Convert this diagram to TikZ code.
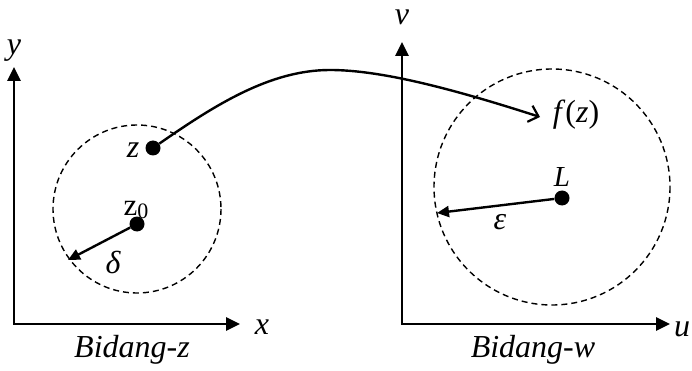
\documentclass[tikz,border=0pt]{standalone}
\usepackage{fontspec}
\setmainfont{Liberation Serif}
\usetikzlibrary{arrows.meta}
\begin{document}
\begin{tikzpicture}[x=1pt,y=-1pt,
  axis/.style={line width=2.8pt,{Triangle[length=14pt,width=13pt]}-{Triangle[length=14pt,width=13pt]}},
  disc/.style={draw,line width=1.4pt,dash pattern=on 6pt off 4pt},
  dot/.style={circle,fill=black,inner sep=0pt,minimum size=15pt},
  radius arrow/.style={line width=2.4pt,-{Triangle[length=12pt,width=11pt]}},
  mapcurve/.style={line width=2.4pt,-{Straight Barb[length=9pt,width=17pt,line width=2.2pt]}},
  lab/.style={font=\fontsize{32}{34}\selectfont\itshape,inner sep=0pt},
  small lab/.style={font=\fontsize{29}{31}\selectfont\itshape,inner sep=0pt},
  title/.style={font=\fontsize{32}{34}\selectfont\itshape,inner sep=0pt}]
\useasboundingbox (0,0) rectangle (692,371);
% left plane
\coordinate (O1) at (14,324);
\coordinate (Y1) at (14,67);
\coordinate (X1) at (240,324);
\draw[axis] (Y1) -- (O1) -- (X1);
\node[lab] (ylab) at (14,51) {y};
\node[lab] (xlab) at (262,327) {x};
\node[title] (bz) at (132,350) {Bidang-z};
\draw[disc] (137,209) circle[radius=84];
\node[dot] (z) at (153,148) {};
\node[dot] (z0) at (137,224) {};
\node[lab] (zlab) at (133,150) {z};
\node[lab,font=\fontsize{31}{33}\selectfont] (z0lab) at (136,210) {z\raisebox{-0.2ex}{\fontsize{22}{24}\selectfont 0}};
\coordinate (dend) at (68,260);
\draw[radius arrow] (z0) -- (dend);
\node[lab] (dlab) at (113,262) {δ};
% right plane
\coordinate (O2) at (402,324);
\coordinate (Y2) at (402,42);
\coordinate (X2) at (670,324);
\draw[axis] (Y2) -- (O2) -- (X2);
\node[lab] (vlab) at (402,17) {v};
\node[lab] (ulab) at (682,329) {u};
\node[title] (bw) at (533,350) {Bidang-w};
\draw[disc] (552,187) circle[radius=118];
\node[dot] (L) at (562,198) {};
\node[small lab] (Llab) at (562,177) {L};
\coordinate (eend) at (437,213);
\draw[radius arrow] (L) -- (eend);
\node[lab] (elab) at (500,222) {ε};
% mapping
\coordinate (fend) at (540,117);
\node[lab] (fzlab) at (576,115) {f\textup{(}z\textup{)}};
\draw[mapcurve] (z) .. controls (215,105) and (270,70) .. (330,70)
  .. controls (380,70) and (450,88) .. (fend);
\end{tikzpicture}
\end{document}
